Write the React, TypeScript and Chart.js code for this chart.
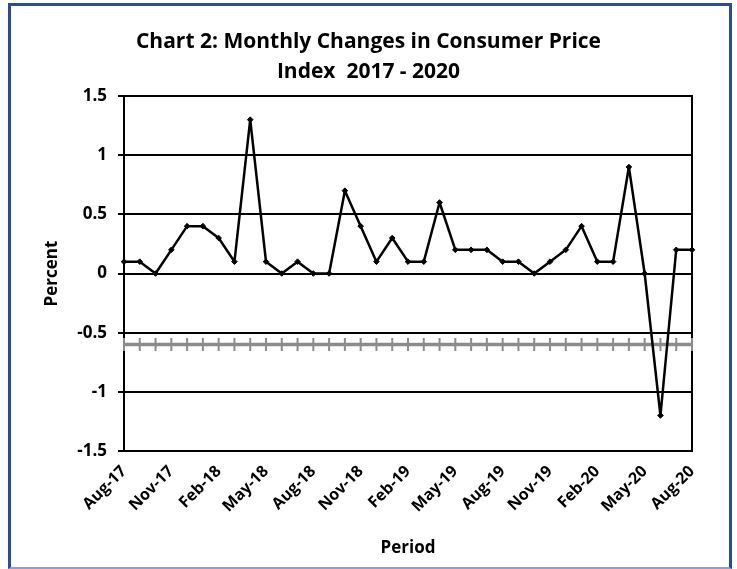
import React, { useEffect, useRef } from "react";
import { Chart, registerables } from "chart.js";

Chart.register(...registerables);

const periods = [
  "Aug-17", "Sep-17", "Oct-17", "Nov-17", "Dec-17", "Jan-18", "Feb-18", "Mar-18", "Apr-18",
  "May-18", "Jun-18", "Jul-18", "Aug-18", "Sep-18", "Oct-18", "Nov-18", "Dec-18", "Jan-19",
  "Feb-19", "Mar-19", "Apr-19", "May-19", "Jun-19", "Jul-19", "Aug-19", "Sep-19", "Oct-19",
  "Nov-19", "Dec-19", "Jan-20", "Feb-20", "Mar-20", "Apr-20", "May-20", "Jun-20", "Jul-20",
  "Aug-20",
];

const cpiChange = [
  0.1, 0.1, 0, 0.2, 0.4, 0.4, 0.3, 0.1, 1.3,
  0.1, 0, 0.1, 0, 0, 0.7, 0.4, 0.1, 0.3,
  0.1, 0.1, 0.6, 0.2, 0.2, 0.2, 0.1, 0.1, 0,
  0.1, 0.2, 0.4, 0.1, 0.1, 0.9, 0, -1.2, 0.2,
  0.2,
];

const axisLineValue = -0.6;
const axisLine = periods.map(() => axisLineValue);

const yTicks = [-1.5, -1, -0.5, 0, 0.5, 1, 1.5];
const titleLines = ["Chart 2: Monthly Changes in Consumer Price", "Index  2017 - 2020"];

const FONT = "'Open Sans', Lato, 'DejaVu Sans', sans-serif";

export default function App() {
  const ref = useRef<HTMLCanvasElement | null>(null);

  useEffect(() => {
    if (!ref.current) return;
    const chart = new Chart(ref.current, {
      type: "line",
      data: {
        labels: periods,
        datasets: [
          {
            label: "CPI",
            data: cpiChange,
            borderColor: "#000",
            backgroundColor: "#000",
            borderWidth: 2.5,
            borderJoinStyle: "round",
            pointStyle: "rectRot",
            pointRadius: 2.8,
            pointBackgroundColor: "#000",
            pointBorderColor: "#000",
            pointBorderWidth: 1,
            tension: 0,
          },
          {
            label: "axis",
            data: axisLine,
            borderColor: "#8c8c8c",
            borderWidth: 3.5,
            pointStyle: "line",
            rotation: 90,
            pointRadius: 6.5,
            pointBorderWidth: 2,
            pointBorderColor: "#8c8c8c",
            tension: 0,
          },
        ],
      },
      options: {
        animation: false,
        responsive: false,
        events: [],
        layout: { padding: { left: 0, right: 0, top: 0, bottom: 0 } },
        plugins: {
          legend: { display: false },
          tooltip: { enabled: false },
          title: {
            display: true,
            text: titleLines,
            color: "#000",
            font: { family: FONT, size: 21, weight: "bold", lineHeight: 30 / 21 },
            padding: { top: 27, bottom: 9 },
          },
        },
        scales: {
          x: {
            type: "category",
            offset: false,
            grid: { display: false, drawTicks: false },
            border: { display: false },
            afterFit: (s: any) => {
              s.height = 118;
            },
            ticks: {
              autoSkip: false,
              maxRotation: 45,
              minRotation: 45,
              padding: 11,
              color: "#000",
              font: { family: FONT, size: 16, weight: "bold" },
              callback: (_v: any, i: number) => (i % 3 === 0 ? periods[i] : ""),
            },
            title: {
              display: true,
              text: "Period",
              color: "#000",
              font: { family: FONT, size: 17, weight: "bold" },
              padding: { top: 0, bottom: 11 },
            },
          },
          y: {
            min: -1.5,
            max: 1.5,
            afterFit: (s: any) => {
              s.width = 124;
            },
            afterBuildTicks: (s: any) => {
              s.ticks = yTicks.map((v) => ({ value: v }));
            },
            grid: {
              color: "#000",
              lineWidth: 2,
              tickLength: 6,
              tickColor: "#000",
              drawTicks: true,
            },
            border: { display: true, color: "#000", width: 2 },
            ticks: {
              color: "#000",
              padding: 11,
              font: { family: FONT, size: 17, weight: "bold" },
              callback: (v: any) => String(v),
            },
            title: {
              display: true,
              text: "Percent",
              color: "#000",
              font: { family: FONT, size: 17, weight: "bold" },
              padding: { top: 42, bottom: 0 },
            },
          },
          y2: {
            position: "right",
            min: -1.5,
            max: 1.5,
            afterFit: (s: any) => {
              s.width = 45;
            },
            grid: { drawOnChartArea: false, drawTicks: false },
            border: { display: true, color: "#000", width: 2 },
            ticks: { display: false },
          },
        },
      } as any,
    });
    return () => chart.destroy();
  }, []);

  return (
    <div style={{ position: "absolute", left: 0, top: 0, width: 737, height: 569, background: "#fff" }}>
      <canvas ref={ref} width={737} height={569} style={{ position: "absolute", left: 0, top: 0 }} />
      <div
        style={{
          position: "absolute",
          left: 8,
          top: 3,
          width: 724,
          height: 566,
          boxSizing: "border-box",
          borderLeft: "3px solid #2d4b9b",
          borderTop: "3px solid #2d4b9b",
          borderRight: "3px solid #2d4b9b",
          borderBottom: "2px solid #8b9ddb",
          pointerEvents: "none",
        }}
      />
    </div>
  );
}
